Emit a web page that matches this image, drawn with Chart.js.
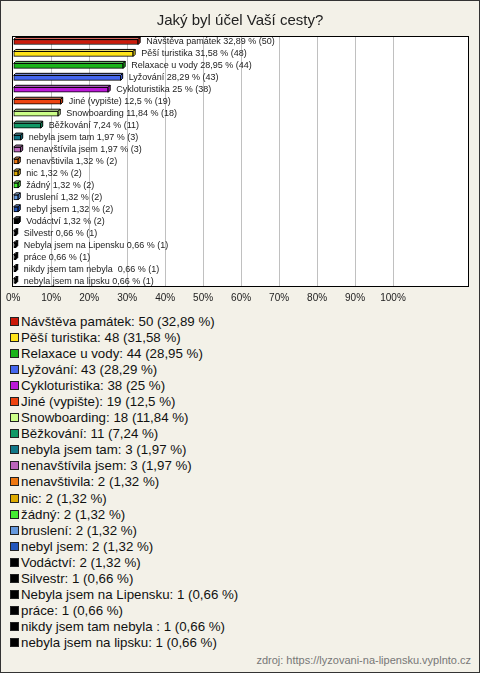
<!DOCTYPE html>
<html>
<head>
<meta charset="utf-8">
<script src="https://cdn.jsdelivr.net/npm/chart.js@4.4.0/dist/chart.umd.min.js"></script>
<style>
  html, body { margin: 0; padding: 0; background: #fff; }
  #frame {
    position: relative; box-sizing: border-box;
    width: 480px; height: 673px;
    border: 1px solid #333; background: #f3f1e8;
    font-family: "Liberation Sans", Arial, sans-serif;
  }
  #chartBox { position: absolute; left: 0; top: 0; width: 478px; height: 312px; }
  #legend { position: absolute; left: 9px; top: 313px; margin: 0; padding: 0; list-style: none; }
  #legend li { height: 16.05px; line-height: 16px; font-size: 13.3px; color: #111; white-space: pre; }
  #legend span.sw {
    display: inline-block; box-sizing: border-box; width: 9px; height: 9px;
    border: 1px solid #222; margin-right: 2px;
  }
  #source { position: absolute; right: 8px; top: 653px; font-size: 11px; color: #777; }
</style>
</head>
<body>
<div id="frame">
  <div id="chartBox"><canvas id="purposeChart"></canvas></div>
  <ul id="legend"></ul>
  <div id="source">zdroj: https://lyzovani-na-lipensku.vyplnto.cz</div>
</div>
<script>
var categories = [
  "Návštěva památek", "Pěší turistika", "Relaxace u vody", "Lyžování", "Cykloturistika",
  "Jiné (vypište)", "Snowboarding", "Běžkování", "nebyla jsem tam", "nenavštívila jsem",
  "nenavštivila", "nic", "žádný", "bruslení", "nebyl jsem", "Vodáctví", "Silvestr",
  "Nebyla jsem na Lipensku", "práce", "nikdy jsem tam nebyla ", "nebyla jsem na lipsku"
];
var counts = [50, 48, 44, 43, 38, 19, 18, 11, 3, 3, 2, 2, 2, 2, 2, 2, 1, 1, 1, 1, 1];
var percents = [32.89, 31.58, 28.95, 28.29, 25, 12.5, 11.84, 7.24, 1.97, 1.97, 1.32, 1.32, 1.32, 1.32, 1.32, 1.32, 0.66, 0.66, 0.66, 0.66, 0.66];
var colors = [
  "#cc1a0a", "#ffe41a", "#1ab41a", "#4466ee", "#bb1ad8",
  "#ee4411", "#ccff88", "#119966", "#117788", "#bb66bb",
  "#ee7711", "#ddaa00", "#44ee33", "#6699dd", "#2255bb", "#000000", "#000000",
  "#000000", "#000000", "#000000", "#000000"
];
var xTicks = [0, 10, 20, 30, 40, 50, 60, 70, 80, 90, 100];

function pct(v) { return String(v).replace(".", ","); }

// legend as html list
var legend = document.getElementById("legend");
categories.forEach(function (c, i) {
  var li = document.createElement("li");
  li.innerHTML = '<span class="sw" style="background:' + colors[i] + '"></span>' +
    c + ": " + counts[i] + " (" + pct(percents[i]) + " %)";
  legend.appendChild(li);
});

function lighten(hex, f) {
  var n = parseInt(hex.slice(1), 16);
  var r = (n >> 16) & 255, g = (n >> 8) & 255, b = n & 255;
  r = Math.round(r + (255 - r) * f);
  g = Math.round(g + (255 - g) * f);
  b = Math.round(b + (255 - b) * f);
  return "rgb(" + r + "," + g + "," + b + ")";
}

var plotFrame = {
  id: "plotFrame",
  beforeDraw: function (chart) {
    var a = chart.chartArea, ctx = chart.ctx;
    ctx.save();
    ctx.fillStyle = "#ffffff";
    ctx.fillRect(a.left, a.top, a.right - a.left, a.bottom - a.top);
    ctx.restore();
  },
  afterDraw: function (chart) {
    var a = chart.chartArea, ctx = chart.ctx;
    ctx.save();
    ctx.strokeStyle = "#000";
    ctx.lineWidth = 1;
    ctx.strokeRect(Math.round(a.left) - 0.5, Math.round(a.top) + 0.5,
      Math.round(a.right - a.left), Math.round(a.bottom - a.top) - 1);
    ctx.restore();
  }
};

// 3d faces + value labels
var barExtras = {
  id: "barExtras",
  afterDatasetsDraw: function (chart) {
    var ctx = chart.ctx, d = 2;
    var meta = chart.getDatasetMeta(0);
    ctx.save();
    meta.data.forEach(function (el, i) {
      var p = el.getProps(["x", "y", "base", "height"], true);
      var left = p.base, right = p.x, top = p.y - p.height / 2, bottom = p.y + p.height / 2;
      ctx.lineWidth = 1;
      ctx.strokeStyle = "#000";
      ctx.fillStyle = lighten(colors[i], 0.35);
      ctx.beginPath();
      ctx.moveTo(left, top); ctx.lineTo(left + d, top - d); ctx.lineTo(right + d, top - d); ctx.lineTo(right, top);
      ctx.closePath(); ctx.fill(); ctx.stroke();
      ctx.fillStyle = colors[i];
      ctx.beginPath();
      ctx.moveTo(right, top); ctx.lineTo(right + d, top - d); ctx.lineTo(right + d, bottom - d); ctx.lineTo(right, bottom);
      ctx.closePath(); ctx.fill(); ctx.stroke();

      ctx.fillStyle = "#222";
      ctx.font = '9px "Liberation Sans", Arial, sans-serif';
      ctx.textBaseline = "middle";
      ctx.textAlign = "left";
      ctx.fillText(categories[i] + " " + pct(percents[i]) + " % (" + counts[i] + ")", right + 8, p.y);
    });
    ctx.restore();
  }
};

var ctx = document.getElementById("purposeChart").getContext("2d");
var myChart = new Chart(ctx, {
  type: "bar",
  data: {
    labels: categories,
    datasets: [{
      label: "Jaký byl účel Vaší cesty?",
      data: percents,
      backgroundColor: colors,
      borderColor: "#000",
      borderWidth: 1,
      borderSkipped: false,
      barThickness: 5
    }]
  },
  options: {
    indexAxis: "y",
    responsive: true,
    maintainAspectRatio: false,
    animation: false,
    layout: { padding: { left: 10, right: 10, top: 0, bottom: 4 } },
    scales: {
      x: {
        min: 0, max: 120,
        afterBuildTicks: function (axis) {
          axis.ticks = xTicks.map(function (v) { return { value: v }; }).concat([{ value: 120 }]);
        },
        ticks: {
          font: { family: '"Liberation Sans", Arial, sans-serif', size: 10 },
          color: "#222",
          padding: 5,
          maxRotation: 0,
          callback: function (v) { return v <= 100 ? v + "%" : ""; }
        },
        grid: {
          drawTicks: false,
          color: function (c) {
            var v = c.tick ? c.tick.value : 0;
            return (v > 0 && v <= 100) ? "#c0c0c0" : "rgba(0,0,0,0)";
          }
        },
        border: { display: false }
      },
      y: {
        ticks: { display: false },
        grid: { display: false, drawTicks: false },
        border: { display: false }
      }
    },
    plugins: {
      legend: { display: false },
      tooltip: { enabled: false },
      title: {
        display: true,
        text: "Jaký byl účel Vaší cesty?",
        color: "#222",
        font: { family: '"Liberation Sans", Arial, sans-serif', size: 15, weight: "normal" },
        padding: { top: 11, bottom: 6 }
      }
    }
  },
  plugins: [plotFrame, barExtras]
});
</script>
</body>
</html>
